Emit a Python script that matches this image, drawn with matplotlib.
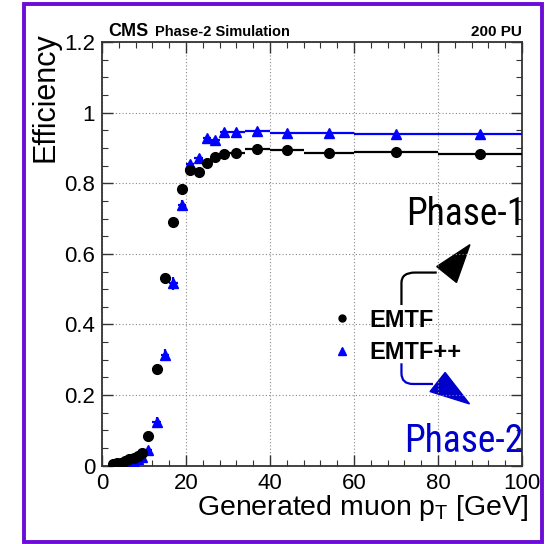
import matplotlib
matplotlib.use("Agg")
import matplotlib.pyplot as plt
from matplotlib.patches import Rectangle, PathPatch, Polygon
from matplotlib.path import Path
from matplotlib.lines import Line2D
from matplotlib.ticker import MultipleLocator, FuncFormatter
from matplotlib import font_manager

plt.rcParams['font.family'] = ['Liberation Sans', 'DejaVu Sans']

# ---- data ----
pt_centers = [2.5, 3.5, 4.5, 5.5, 6.5, 7.5, 8.5, 9.5, 11, 13, 15, 17, 19, 21, 23, 25, 27, 29,
              32, 37, 44, 54, 70, 90]
pt_halfwidth = [0.5] * 8 + [1] * 10 + [2, 3, 4, 6, 10, 10]
eff_emtf = [0.005, 0.008, 0.009, 0.012, 0.020, 0.022, 0.028, 0.036, 0.084, 0.273, 0.531, 0.690,
            0.784, 0.838, 0.831, 0.857, 0.875, 0.884, 0.887, 0.898, 0.893, 0.885, 0.888, 0.882]
err_emtf = [0.003, 0.003, 0.003, 0.004, 0.005, 0.005, 0.006, 0.007, 0.010, 0.015, 0.016, 0.015,
            0.013, 0.010, 0.010, 0.009, 0.008, 0.008, 0.006, 0.005, 0.005, 0.005, 0.005, 0.005]
eff_emtfpp = [0.001, 0.002, 0.002, 0.003, 0.008, 0.010, 0.020, 0.025, 0.044, 0.125, 0.314, 0.517,
              0.739, 0.854, 0.871, 0.929, 0.923, 0.944, 0.946, 0.949, 0.943, 0.942, 0.939, 0.939]
err_emtfpp = [0.002, 0.002, 0.002, 0.003, 0.004, 0.005, 0.006, 0.007, 0.009, 0.013, 0.016, 0.018,
              0.014, 0.010, 0.009, 0.007, 0.007, 0.006, 0.005, 0.004, 0.004, 0.004, 0.004, 0.004]

BLUE = '#0000ff'
DBLUE = '#0000cc'
PURPLE = '#6a0dd6'

# pick a condensed family if one is installed
names = {f.name for f in font_manager.fontManager.ttflist}
narrow_family = None
for cand in ['Liberation Sans Narrow', 'Roboto Condensed', 'Open Sans Condensed',
             'DejaVu Sans Condensed', 'Ubuntu Condensed']:
    if cand in names:
        narrow_family = cand
        break
cond_fonts = [f for f in font_manager.fontManager.ttflist
              if f.name == 'DejaVu Sans' and str(f.stretch) in ('condensed', '75', '87.5')]
if narrow_family is None:
    if cond_fonts:
        narrow_kw = dict(family=['DejaVu Sans'], fontstretch='condensed', fontsize=25)
    else:
        narrow_kw = dict(family=['Roboto', 'DejaVu Sans'], fontsize=24)
else:
    narrow_kw = dict(family=[narrow_family, 'DejaVu Sans'], fontsize=27)

fig = plt.figure(figsize=(5.47, 5.44), dpi=100)
W, H = 547, 544
ax = fig.add_axes([102 / W, 1 - 465.7 / H, 420 / W, 423.7 / H])

ax.errorbar(pt_centers, eff_emtf, xerr=pt_halfwidth, yerr=err_emtf, fmt='o', color='black',
            markersize=7, elinewidth=1.6, capsize=0, zorder=4)
ax.errorbar(pt_centers, eff_emtfpp, xerr=pt_halfwidth, yerr=err_emtfpp, fmt='^', color=BLUE,
            markersize=7, elinewidth=1.6, capsize=0, zorder=3)

ax.set_xlim(0, 100)
ax.set_ylim(0, 1.2)
ax.xaxis.set_major_locator(MultipleLocator(20))
ax.xaxis.set_minor_locator(MultipleLocator(4))
ax.yaxis.set_major_locator(MultipleLocator(0.2))
ax.yaxis.set_minor_locator(MultipleLocator(0.05))
ax.yaxis.set_major_formatter(FuncFormatter(lambda v, p: '%g' % round(v, 2)))
ax.tick_params(which='both', direction='in', top=True, right=True, color='#333333')
ax.tick_params(which='major', length=8, width=1.0, labelsize=16, pad=5)
ax.tick_params(which='minor', length=4, width=0.8)
ax.tick_params(axis='y', pad=5)
for s in ax.spines.values():
    s.set_linewidth(1.3)
    s.set_color('#333333')
ax.grid(True, which='major', linestyle=(0, (1, 2)), color='#888888', linewidth=0.8)

ax.set_xlabel(r'Generated muon p$_{\mathregular{T}}$ [GeV]', fontsize=20.5, loc='right')
ax.xaxis.set_label_coords(1.016, -0.065)
ax.set_ylabel('Efficiency', fontsize=22, loc='top')
ax.yaxis.set_label_coords(-0.098, 1.024)

# header
ax.text(0.015, 1.014, 'CMS', transform=ax.transAxes, fontsize=13, fontweight='bold',
        ha='left', va='baseline')
ax.text(0.127, 1.014, 'Phase-2 Simulation', transform=ax.transAxes, fontsize=10.5,
        fontweight='bold', ha='left', va='baseline')
ax.text(1.0, 1.014, '200 PU', transform=ax.transAxes, fontsize=11, fontweight='bold',
        ha='right', va='baseline')

# legend
h1 = Line2D([], [], marker='o', color='black', linestyle='none', markersize=5)
h2 = Line2D([], [], marker='^', color=BLUE, linestyle='none', markersize=5.5)
ax.legend([h1, h2], ['EMTF', 'EMTF++'], loc='center left', bbox_to_anchor=(0.5445, 0.305),
          frameon=False, prop={'weight': 'bold', 'size': 17}, handlelength=1.0,
          handletextpad=0.65, borderpad=0, borderaxespad=0, labelspacing=0.4)

# annotations
ax.text(100.8, 0.682, 'Phase-1', color='black', ha='right', va='baseline', **narrow_kw)
ax.text(100.4, 0.039, 'Phase-2', color=DBLUE, ha='right', va='baseline', **narrow_kw)

p1 = Path([(71.3, 0.455), (71.3, 0.518), (71.3, 0.547), (74.5, 0.547), (79.7, 0.547)],
          [Path.MOVETO, Path.LINETO, Path.CURVE3, Path.CURVE3, Path.LINETO])
ax.add_patch(PathPatch(p1, fill=False, edgecolor='black', linewidth=1.6, clip_on=False))
ax.add_patch(Polygon([(79.7, 0.564), (84.4, 0.519), (87.6, 0.626)], closed=True,
                     facecolor='black', edgecolor='black', clip_on=False))
p2 = Path([(71.3, 0.290), (71.3, 0.262), (71.3, 0.2315), (74.0, 0.2315), (78.8, 0.2315)],
          [Path.MOVETO, Path.LINETO, Path.CURVE3, Path.CURVE3, Path.LINETO])
ax.add_patch(PathPatch(p2, fill=False, edgecolor=DBLUE, linewidth=1.6, clip_on=False))
ax.add_patch(Polygon([(78.1, 0.21), (81.7, 0.264), (87.5, 0.175)], closed=True,
                     facecolor=DBLUE, edgecolor=DBLUE, clip_on=False))

# purple frame
fig.patches.append(Rectangle((24 / W, 1 - 541.5 / H), (541.5 - 24) / W, (541.5 - 3.5) / H,
                             transform=fig.transFigure, fill=False, edgecolor=PURPLE,
                             linewidth=2.8))

fig.savefig('out.png', dpi=100)
